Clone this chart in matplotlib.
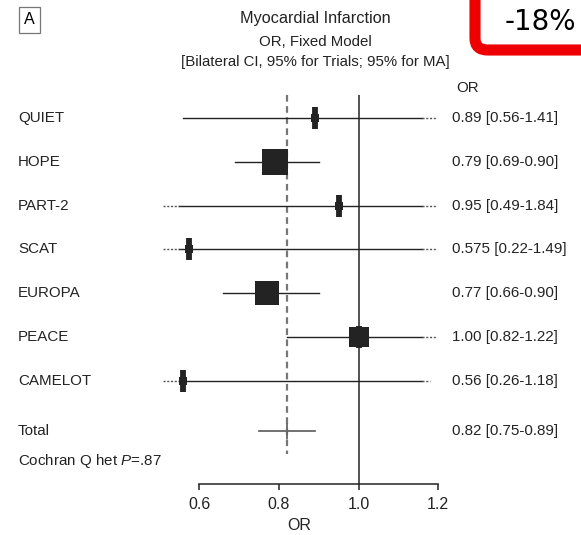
import numpy as np
import matplotlib
matplotlib.use('Agg')
import matplotlib.pyplot as plt
from matplotlib.transforms import blended_transform_factory
from matplotlib.patches import FancyBboxPatch

studies = ['QUIET', 'HOPE', 'PART-2', 'SCAT', 'EUROPA', 'PEACE', 'CAMELOT']
odds = [0.89, 0.79, 0.95, 0.575, 0.77, 1.00, 0.56]
ci_low = [0.56, 0.69, 0.49, 0.22, 0.66, 0.82, 0.26]
ci_high = [1.41, 0.90, 1.84, 1.49, 0.90, 1.22, 1.18]
weights = [4.0, 36.0, 3.5, 4.0, 29.0, 20.0, 3.5]
or_labels = ['0.89 [0.56-1.41]', '0.79 [0.69-0.90]', '0.95 [0.49-1.84]',
             '0.575 [0.22-1.49]', '0.77 [0.66-0.90]', '1.00 [0.82-1.22]',
             '0.56 [0.26-1.18]']
total_or = 0.82
total_low = 0.75
total_high = 0.89
total_label = '0.82 [0.75-0.89]'
xticks = [0.6, 0.8, 1.0, 1.2]

plt.rcParams['font.family'] = ['Liberation Sans', 'DejaVu Sans']
plt.rcParams['mathtext.fontset'] = 'custom'
plt.rcParams['mathtext.it'] = 'Liberation Sans:italic'
plt.rcParams['mathtext.rm'] = 'Liberation Sans'

W, H = 581, 535
fig = plt.figure(figsize=(W / 100, H / 100), dpi=100)

# x: 0.6 -> 199.3 px, 1.2 -> 438.3 px ; y: rows every ~43.8 px
ppu = 398.3
x0, x1 = 0.45, 1.25
left_px = 199.3 - (0.6 - x0) * ppu
right_px = 199.3 + (x1 - 0.6) * ppu
top_px, bot_px = 95, 484
ax = fig.add_axes([left_px / W, 1 - bot_px / H, (right_px - left_px) / W, (bot_px - top_px) / H])
ax.set_xlim(x0, x1)
ylo, yhi = 8.36, -0.53
ax.set_ylim(ylo, yhi)

ink = '#232323'
fs = 10.9
clip_lo, clip_hi = 0.55, 1.16
dot_lo, dot_hi = 0.51, 1.195

ax.axvline(1.0, color=ink, lw=1.1, zorder=1)
ax.plot([total_or, total_or], [yhi, 7.67], color='#777777', lw=1.6,
        ls=(0, (3, 2)), zorder=1)

for i in range(len(studies)):
    lo, hi = ci_low[i], ci_high[i]
    ax.plot([max(lo, clip_lo), min(hi, clip_hi)], [i, i], color=ink, lw=1.0, zorder=2)
    if lo < clip_lo:
        ax.plot([max(lo, dot_lo), clip_lo], [i, i], color='#555555', lw=1.0,
                ls=(0, (1.5, 1.2)), zorder=2)
    if hi > clip_hi:
        ax.plot([clip_hi, min(hi, dot_hi)], [i, i], color='#555555', lw=1.0,
                ls=(0, (1.5, 1.2)), zorder=2)
    side = 4.5 * np.sqrt(weights[i]) / 1.389
    ax.plot(odds[i], i, marker='|', ms=16.5, mew=4.2, color=ink, zorder=3)
    ax.plot(odds[i], i, marker='s', ms=side, mew=0, color=ink, zorder=4)

ty = 7.15
ax.plot([total_low, total_high], [ty, ty], color='#666666', lw=1.3, zorder=2)
ax.plot(total_or, ty, marker='|', ms=12, mew=1.3, color='#666666', zorder=2)

for s in ['top', 'right', 'left']:
    ax.spines[s].set_visible(False)
ax.spines['bottom'].set_bounds(0.6, 1.2)
ax.spines['bottom'].set_color(ink)
ax.spines['bottom'].set_linewidth(1.1)
ax.set_xticks(xticks)
ax.set_xticklabels(['%.1f' % t for t in xticks])
ax.tick_params(axis='x', length=4.5, width=1.1, color=ink, labelsize=11.5,
               labelcolor=ink, pad=5)
ax.set_yticks([])
ax.set_xlabel('OR', fontsize=11.5, color=ink, labelpad=4)
ax.patch.set_alpha(0)

tr = blended_transform_factory(fig.transFigure, ax.transData)
for i in range(len(studies)):
    ax.text(18 / W, i, studies[i], transform=tr, fontsize=fs, color=ink,
            va='center', ha='left')
    ax.text(452 / W, i, or_labels[i], transform=tr, fontsize=fs, color=ink,
            va='center', ha='left')
ax.text(18 / W, ty, 'Total', transform=tr, fontsize=fs, color=ink, va='center')
ax.text(452 / W, ty, total_label, transform=tr, fontsize=fs, color=ink, va='center')
fig.text(18 / W, 1 - 461 / H, 'Cochran Q het $P$=.87', fontsize=fs, color=ink,
         va='center')

fig.text(468 / W, 1 - 88 / H, 'OR', fontsize=fs, color=ink, ha='center', va='center')
fig.text(315 / W, 1 - 19 / H, 'Myocardial Infarction', fontsize=11.7, color=ink,
         ha='center', va='center')
fig.text(315 / W, 1 - 41.5 / H, 'OR, Fixed Model', fontsize=10.8, color=ink,
         ha='center', va='center')
fig.text(315 / W, 1 - 62 / H, '[Bilateral CI, 95% for Trials; 95% for MA]',
         fontsize=10.8, color=ink, ha='center', va='center')
fig.text(29.5 / W, 1 - 20 / H, 'A', fontsize=11.5, color='black', ha='center',
         va='center', bbox=dict(boxstyle='square,pad=0.35', fc='white', ec='#777777', lw=0.9))

red = FancyBboxPatch((475 / W, 1 - 50 / H), 140 / W, 80 / H,
                     boxstyle='round,pad=0,rounding_size=0.022',
                     transform=fig.transFigure, fc='white', ec='#ee0000', lw=8,
                     zorder=5, clip_on=False)
fig.patches.append(red)
fig.text(540 / W, 1 - 22 / H, '-18%', fontsize=20, family='DejaVu Sans',
         color='black', ha='center', va='center', zorder=6)

fig.savefig('out.png', dpi=100)
